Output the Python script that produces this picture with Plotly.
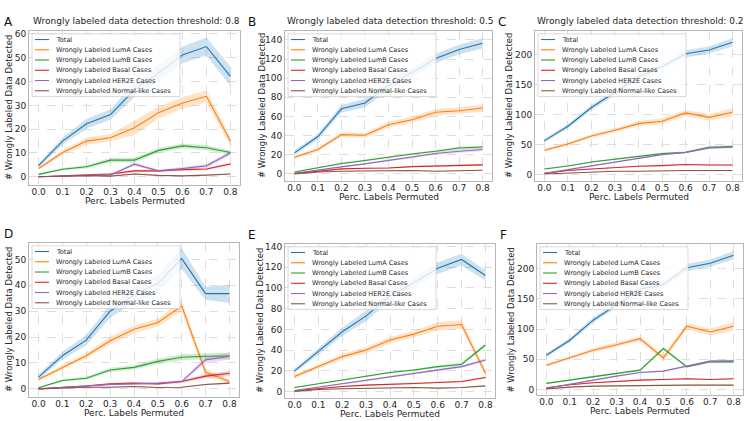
import plotly.graph_objects as go

W, H = 747, 421

X = [0.0, 0.1, 0.2, 0.3, 0.4, 0.5, 0.6, 0.7, 0.8]
X_TICKTEXT = ["0.0", "0.1", "0.2", "0.3", "0.4", "0.5", "0.6", "0.7", "0.8"]

SERIES_NAMES = ["Total", "Wrongly Labeled LumA Cases", "Wrongly Labeled LumB Cases",
                "Wrongly Labeled Basal Cases", "Wrongly Labeled HER2E Cases",
                "Wrongly Labeled Normal-like Cases"]
COLORS = ["#1f77b4", "#ff7f0e", "#2ca02c", "#d62728", "#9467bd", "#8c564b"]

PANEL_LETTERS = ["A", "B", "C", "D", "E", "F"]
PANEL_TITLES = ["Wrongly labeled data detection threshold: 0.8",
                "Wrongly labeled data detection threshold: 0.5",
                "Wrongly labeled data detection threshold: 0.2", "", "", ""]
X_TITLE = "Perc. Labels Permuted"
Y_TITLE = "# Wrongly Labeled Data Detected"

# ---- Panel A ----
A_total = [4.7, 15.0, 22.3, 26.2, 36.5, 43.6, 51.2, 54.7, 42.2]
A_luma = [3.5, 10.2, 15.0, 16.4, 20.6, 26.9, 31.0, 33.8, 15.0]
A_lumb = [1.0, 3.2, 4.2, 7.0, 7.0, 11.1, 13.0, 12.2, 10.2]
A_basal = [0.0, 0.5, 1.0, 1.2, 2.5, 2.5, 3.0, 3.3, 5.4]
A_her2e = [0.0, 0.3, 0.8, 0.8, 5.3, 2.5, 3.5, 4.6, 10.0]
A_normal = [0.0, 0.2, 0.5, 0.3, 1.2, 0.6, 0.4, 0.7, 1.2]
A_total_err = [0.8, 1.5, 2.0, 2.2, 3.0, 3.5, 3.5, 3.8, 4.0]
A_luma_err = [0.5, 1.0, 1.5, 1.5, 3.0, 2.5, 2.5, 2.5, 2.0]
A_lumb_err = [0.3, 0.5, 0.7, 1.0, 1.0, 1.0, 1.0, 1.0, 0.8]
A_basal_err = [0.1, 0.2, 0.3, 0.4, 0.6, 0.5, 0.5, 0.5, 0.6]
A_her2e_err = [0.1, 0.2, 0.3, 0.3, 0.8, 0.5, 0.6, 0.8, 1.0]
A_normal_err = [0.1, 0.1, 0.2, 0.2, 0.3, 0.2, 0.2, 0.2, 0.3]

# ---- Panel B ----
B_total = [21.9, 39.0, 68.0, 74.0, 92.6, 105.9, 120.5, 130.0, 136.5]
B_luma = [17.4, 25.4, 41.0, 40.3, 51.4, 56.6, 64.3, 66.0, 68.8]
B_lumb = [2.0, 6.2, 10.8, 13.9, 17.7, 20.8, 23.6, 27.0, 28.0]
B_basal = [0.3, 2.8, 5.2, 5.9, 6.2, 7.6, 8.3, 8.7, 9.4]
B_her2e = [0.7, 4.2, 7.3, 10.4, 14.2, 17.4, 21.2, 23.6, 25.4]
B_normal = [0.0, 2.0, 2.8, 3.1, 3.1, 3.5, 2.8, 3.5, 3.8]
B_total_err = [2.5, 3.0, 4.0, 4.5, 5.0, 5.0, 5.0, 5.0, 5.5]
B_luma_err = [1.5, 2.0, 2.5, 2.5, 3.0, 3.0, 3.5, 3.5, 4.0]
B_lumb_err = [0.5, 0.8, 1.0, 1.0, 1.0, 1.0, 1.2, 1.5, 1.5]
B_basal_err = [0.3, 0.5, 0.6, 0.6, 0.6, 0.7, 0.7, 0.8, 0.8]
B_her2e_err = [0.3, 0.6, 0.8, 0.8, 1.0, 1.0, 1.2, 1.5, 1.5]
B_normal_err = [0.2, 0.3, 0.4, 0.4, 0.4, 0.4, 0.4, 0.4, 0.4]

# ---- Panel C ----
C_total = [56.7, 80.6, 112.0, 138.0, 163.0, 180.0, 201.7, 208.0, 221.0]
C_luma = [40.6, 51.0, 64.4, 74.0, 85.0, 89.0, 103.0, 95.6, 104.0]
C_lumb = [9.4, 14.4, 21.0, 25.6, 31.0, 35.0, 37.0, 45.6, 46.7]
C_basal = [2.0, 6.7, 9.4, 12.2, 13.9, 15.0, 16.7, 16.0, 16.0]
C_her2e = [2.0, 8.3, 14.4, 20.6, 27.8, 33.3, 37.0, 44.4, 46.0]
C_normal = [1.0, 2.8, 4.4, 5.6, 5.6, 6.7, 6.7, 6.7, 6.7]
C_total_err = [3.0, 3.5, 4.0, 4.5, 5.0, 5.0, 6.0, 6.0, 7.0]
C_luma_err = [2.5, 2.5, 3.0, 3.5, 4.0, 5.0, 5.0, 5.5, 7.0]
C_lumb_err = [1.0, 1.0, 1.2, 1.2, 1.5, 1.5, 1.5, 2.0, 2.5]
C_basal_err = [0.5, 0.7, 0.8, 0.8, 0.8, 0.8, 0.9, 0.9, 0.9]
C_her2e_err = [0.5, 0.8, 1.0, 1.0, 1.2, 1.2, 1.5, 2.0, 2.0]
C_normal_err = [0.3, 0.4, 0.5, 0.5, 0.5, 0.5, 0.5, 0.5, 0.5]

# ---- Panel D ----
D_total = [4.5, 12.8, 18.8, 30.0, 36.3, 40.8, 50.3, 36.8, 36.8]
D_luma = [3.6, 8.3, 12.8, 18.6, 23.0, 25.6, 32.0, 6.4, 2.8]
D_lumb = [0.4, 3.2, 4.1, 7.3, 8.3, 10.6, 12.2, 12.6, 12.7]
D_basal = [0.0, 0.5, 1.1, 1.9, 2.2, 1.9, 2.8, 4.9, 6.0]
D_her2e = [0.0, 0.6, 1.0, 1.7, 1.9, 2.2, 2.8, 11.2, 12.6]
D_normal = [0.0, 0.3, 0.6, 0.6, 0.9, 0.5, 0.6, 1.7, 2.2]
D_total_err = [1.0, 1.5, 2.0, 2.5, 3.0, 3.5, 4.0, 2.5, 3.5]
D_luma_err = [0.5, 1.0, 1.0, 1.5, 1.5, 1.5, 2.0, 1.5, 0.8]
D_lumb_err = [0.3, 0.5, 0.6, 0.8, 0.8, 1.0, 1.2, 1.2, 1.3]
D_basal_err = [0.1, 0.2, 0.3, 0.4, 0.4, 0.4, 0.5, 0.8, 0.9]
D_her2e_err = [0.1, 0.2, 0.3, 0.4, 0.4, 0.4, 0.5, 1.2, 1.3]
D_normal_err = [0.1, 0.1, 0.2, 0.2, 0.2, 0.2, 0.2, 0.3, 0.3]

# ---- Panel E ----
E_total = [19.9, 38.5, 57.7, 73.0, 92.3, 105.3, 119.0, 127.5, 112.0]
E_luma = [14.4, 24.0, 33.7, 40.0, 49.7, 55.4, 63.0, 64.7, 17.6]
E_lumb = [3.8, 7.4, 10.6, 14.4, 18.3, 20.8, 24.0, 26.3, 44.9]
E_basal = [0.6, 2.9, 4.8, 6.1, 6.7, 7.7, 8.7, 9.6, 13.5]
E_her2e = [1.0, 4.2, 7.4, 10.6, 14.4, 17.6, 20.8, 24.0, 30.4]
E_normal = [0.0, 1.9, 2.6, 3.2, 3.2, 3.8, 3.2, 3.8, 5.4]
E_total_err = [2.0, 3.0, 4.0, 5.0, 5.0, 5.0, 5.5, 5.5, 5.0]
E_luma_err = [1.5, 2.0, 2.5, 3.0, 3.0, 3.0, 4.0, 4.0, 3.0]
E_lumb_err = [0.5, 0.7, 0.8, 1.0, 1.0, 1.0, 1.2, 1.5, 2.0]
E_basal_err = [0.3, 0.5, 0.6, 0.6, 0.7, 0.7, 0.8, 0.8, 1.0]
E_her2e_err = [0.3, 0.6, 0.8, 0.9, 1.0, 1.0, 1.2, 1.3, 1.5]
E_normal_err = [0.2, 0.3, 0.4, 0.4, 0.4, 0.4, 0.4, 0.4, 0.5]

# ---- Panel F ----
F_total = [56.7, 81.5, 114.6, 140.0, 166.0, 173.8, 201.6, 209.0, 222.0]
F_luma = [40.0, 52.0, 65.0, 74.0, 84.0, 52.0, 104.7, 95.0, 104.7]
F_lumb = [10.0, 15.4, 22.0, 26.4, 32.0, 67.8, 37.5, 45.7, 45.7]
F_basal = [2.8, 7.7, 11.0, 13.8, 15.4, 16.5, 17.6, 16.5, 17.6]
F_her2e = [1.7, 8.8, 15.4, 22.0, 28.0, 30.3, 38.6, 46.8, 47.4]
F_normal = [1.0, 3.9, 5.5, 6.0, 7.2, 7.2, 7.2, 7.2, 7.2]
F_total_err = [3.0, 3.5, 4.0, 4.5, 5.0, 5.0, 6.0, 6.0, 7.0]
F_luma_err = [2.5, 2.5, 3.0, 3.5, 4.0, 5.0, 5.0, 5.5, 7.0]
F_lumb_err = [1.0, 1.0, 1.2, 1.2, 1.5, 2.0, 1.5, 2.0, 2.5]
F_basal_err = [0.5, 0.7, 0.8, 0.8, 0.8, 0.8, 0.9, 0.9, 0.9]
F_her2e_err = [0.5, 0.8, 1.0, 1.0, 1.2, 1.2, 1.5, 2.0, 2.0]
F_normal_err = [0.3, 0.4, 0.5, 0.5, 0.5, 0.5, 0.5, 0.5, 0.5]

Y_TICKS_A = [0, 10, 20, 30, 40, 50, 60]
Y_TICKS_B = [0, 20, 40, 60, 80, 100, 120, 140]
Y_TICKS_C = [0, 50, 100, 150, 200]
Y_TICKS_D = [0, 10, 20, 30, 40, 50]
Y_TICKS_E = [0, 20, 40, 60, 80, 100, 120, 140]
Y_TICKS_F = [0, 50, 100, 150, 200]

panels = [
    ([A_total, A_luma, A_lumb, A_basal, A_her2e, A_normal],
     [A_total_err, A_luma_err, A_lumb_err, A_basal_err, A_her2e_err, A_normal_err], Y_TICKS_A),
    ([B_total, B_luma, B_lumb, B_basal, B_her2e, B_normal],
     [B_total_err, B_luma_err, B_lumb_err, B_basal_err, B_her2e_err, B_normal_err], Y_TICKS_B),
    ([C_total, C_luma, C_lumb, C_basal, C_her2e, C_normal],
     [C_total_err, C_luma_err, C_lumb_err, C_basal_err, C_her2e_err, C_normal_err], Y_TICKS_C),
    ([D_total, D_luma, D_lumb, D_basal, D_her2e, D_normal],
     [D_total_err, D_luma_err, D_lumb_err, D_basal_err, D_her2e_err, D_normal_err], Y_TICKS_D),
    ([E_total, E_luma, E_lumb, E_basal, E_her2e, E_normal],
     [E_total_err, E_luma_err, E_lumb_err, E_basal_err, E_her2e_err, E_normal_err], Y_TICKS_E),
    ([F_total, F_luma, F_lumb, F_basal, F_her2e, F_normal],
     [F_total_err, F_luma_err, F_lumb_err, F_basal_err, F_her2e_err, F_normal_err], Y_TICKS_F),
]

# layout (pixels): axes boxes [left, right, top, bottom]
BOXES = [(29, 240, 29, 184), (285, 492, 29, 180), (535, 742, 29, 180),
         (29, 239, 242, 397), (285, 495, 243, 398), (537, 743, 243, 395)]
Y_RANGES = [(-3.5, 61.3), (-7.6, 149.4), (-11, 240), (-3.2, 56.4), (-6.4, 142.6), (-9.4, 241)]
YTITLE_OFF = [20, 23, 26, 20, 25, 26]
X_RANGE = (-0.04, 0.84)

FONT = "DejaVu Sans"
TXT = "#262626"


def px(x):
    return x / W


def py(y):
    return 1 - y / H


def rgba(hexc, a):
    h = hexc.lstrip("#")
    return f"rgba({int(h[0:2],16)},{int(h[2:4],16)},{int(h[4:6],16)},{a})"


fig = go.Figure()
shapes = []
annotations = []
layout_axes = {}

for i, (vals, errs, yticks) in enumerate(panels):
    n = i + 1
    xa = "x" if n == 1 else f"x{n}"
    ya = "y" if n == 1 else f"y{n}"
    L, R, T, B = BOXES[i]
    for k in range(6):
        v, e = vals[k], errs[k]
        up = [a + b for a, b in zip(v, e)]
        lo = [a - b for a, b in zip(v, e)]
        fig.add_trace(go.Scatter(x=X, y=up, mode="lines", line=dict(width=0),
                                 showlegend=False, hoverinfo="skip", xaxis=xa, yaxis=ya))
        fig.add_trace(go.Scatter(x=X, y=lo, mode="lines", line=dict(width=0), fill="tonexty",
                                 fillcolor=rgba(COLORS[k], 0.22), showlegend=False,
                                 hoverinfo="skip", xaxis=xa, yaxis=ya))
        fig.add_trace(go.Scatter(x=X, y=v, mode="lines", name=SERIES_NAMES[k],
                                 line=dict(color=COLORS[k], width=1.1), showlegend=False,
                                 xaxis=xa, yaxis=ya))
    axis_common = dict(showline=True, mirror=True, linecolor="#b5b5b5", linewidth=1,
                       showgrid=True, gridcolor="#dedede", griddash="dash", gridwidth=0.8,
                       zeroline=False, ticks="", tickfont=dict(size=9, color=TXT, family=FONT))
    xkey = "xaxis" if n == 1 else f"xaxis{n}"
    ykey = "yaxis" if n == 1 else f"yaxis{n}"
    layout_axes[xkey] = dict(domain=[px(L), px(R)], anchor=ya, range=list(X_RANGE),
                             tickvals=X, ticktext=X_TICKTEXT, ticklabelstandoff=-2,
                             **axis_common)
    layout_axes[ykey] = dict(domain=[py(B), py(T)], anchor=xa, range=list(Y_RANGES[i]),
                             tickvals=yticks, **axis_common)

    # legend box
    shapes.append(dict(type="rect", xref="paper", yref="paper", layer="above",
                       x0=px(L + 3), x1=px(L + 151), y0=py(T + 66), y1=py(T + 3),
                       fillcolor="rgba(255,255,255,0.8)", line=dict(color="#d0d0d0", width=0.8)))
    for k in range(6):
        yy = T + 8.7 + 10.3 * k
        shapes.append(dict(type="line", xref="paper", yref="paper", layer="above",
                           x0=px(L + 6), x1=px(L + 20), y0=py(yy), y1=py(yy),
                           line=dict(color=COLORS[k], width=1.1)))
        annotations.append(dict(xref="paper", yref="paper", x=px(L + 25), y=py(yy),
                                xanchor="left", yanchor="middle", showarrow=False,
                                text=SERIES_NAMES[k],
                                font=dict(size=6.5, color=TXT, family=FONT)))
    # title
    if PANEL_TITLES[i]:
        annotations.append(dict(xref="paper", yref="paper", x=px((L + R) / 2 + 2), y=py(T - 10),
                                xanchor="center", yanchor="middle", showarrow=False,
                                text=PANEL_TITLES[i], font=dict(size=9, color=TXT, family=FONT)))
    # panel letter
    annotations.append(dict(xref="paper", yref="paper", x=px(L - 21 if i % 3 == 0 else L - 33),
                            y=py(T - 9), xanchor="center", yanchor="middle", showarrow=False,
                            text=PANEL_LETTERS[i], font=dict(size=12, color="#111", family=FONT)))
    # axis titles
    annotations.append(dict(xref="paper", yref="paper", x=px((L + R) / 2), y=py(B + 16),
                            xanchor="center", yanchor="middle", showarrow=False,
                            text=X_TITLE, font=dict(size=9, color=TXT, family=FONT)))
    annotations.append(dict(xref="paper", yref="paper", x=px(L - YTITLE_OFF[i]), y=py((T + B) / 2),
                            xanchor="center", yanchor="middle", showarrow=False, textangle=-90,
                            text=Y_TITLE, font=dict(size=8.5, color=TXT, family=FONT)))

fig.update_layout(width=W, height=H, margin=dict(l=0, r=0, t=0, b=0),
                  paper_bgcolor="white", plot_bgcolor="white", showlegend=False,
                  font=dict(family=FONT, color=TXT), shapes=shapes, annotations=annotations,
                  **layout_axes)

fig.write_html("out.html", config={"displayModeBar": False},
               post_script="document.body.style.margin='0';document.body.style.overflow='hidden';")
